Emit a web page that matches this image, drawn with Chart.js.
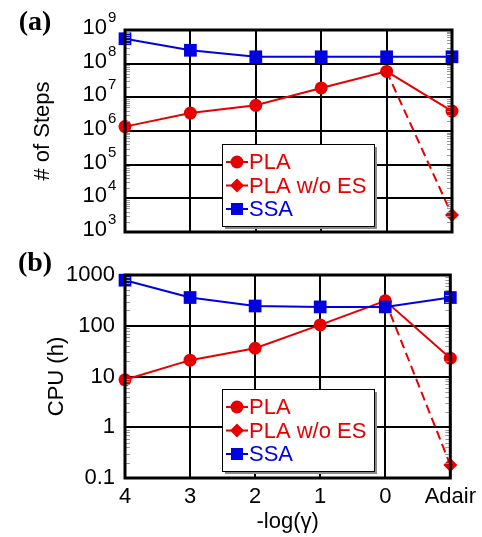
<!DOCTYPE html>
<html>
<head>
<meta charset="utf-8">
<script src="https://cdn.jsdelivr.net/npm/chart.js@4.4.0/dist/chart.umd.min.js"></script>
<style>
  body { margin: 0; background: #fff; }
  #wrap { position: relative; width: 482px; height: 537px; }
  canvas { position: absolute; left: 0; }
  #stepsChart { top: 0; }
  #cpuChart { top: 250px; }
</style>
</head>
<body>
<div id="wrap">
  <canvas id="stepsChart" width="482" height="250"></canvas>
  <canvas id="cpuChart" width="482" height="287"></canvas>
</div>
<script>
const categories = ['4', '3', '2', '1', '0', 'Adair'];

// (a) number of steps
const stepsPLA  = [1.35e6, 3.4e6, 5.8e6, 1.9e7, 5.9e7, 3.9e6];
const stepsNoES = [null, null, null, null, 5.9e7, 3.2e3];
const stepsSSA  = [5.5e8, 2.5e8, 1.6e8, 1.6e8, 1.6e8, 1.6e8];
const stepsTicks = [1e3, 1e4, 1e5, 1e6, 1e7, 1e8, 1e9];

// (b) CPU time in hours
const cpuPLA  = [8.6, 21, 36, 104, 310, 23];
const cpuNoES = [null, null, null, null, 310, 0.18];
const cpuSSA  = [790, 360, 245, 235, 235, 360];
const cpuTicks = [0.1, 1, 10, 100, 1000];

const RED = '#e60000';
const BLUE = '#0000e0';
const FONT = "'Liberation Sans', Arial, sans-serif";

function makeDatasets(pla, noEs, ssa) {
  return [
    {
      label: 'SSA', data: ssa, borderColor: BLUE, backgroundColor: BLUE,
      borderWidth: 2, pointStyle: 'rect', pointRadius: 9, pointBorderWidth: 0,
      order: 0, clip: false
    },
    {
      label: 'PLA', data: pla, borderColor: RED, backgroundColor: RED,
      borderWidth: 2, pointStyle: 'circle', pointRadius: 6.5, pointBorderWidth: 0,
      order: 1, clip: false
    },
    {
      // dashed branch: marker only on the last point
      label: 'PLA w/o ES', data: noEs, borderColor: RED, backgroundColor: RED,
      borderWidth: 2, borderDash: [9, 5], pointStyle: 'rectRot',
      pointRadius: noEs.map((v, i) => i === noEs.length - 1 ? 7 : 0),
      pointBorderWidth: 0, order: 2, clip: false
    }
  ];
}

// frame, minor ticks, legend and text labels
const panelDecor = {
  id: 'panelDecor',
  afterDraw(chart, args, opts) {
    const ctx = chart.ctx;
    const a = chart.chartArea;
    const y = chart.scales.y;
    ctx.save();

    // minor log ticks inside left and right edges
    ctx.strokeStyle = '#999';
    ctx.lineWidth = 1;
    const d0 = Math.round(Math.log10(y.min)), d1 = Math.round(Math.log10(y.max));
    for (let d = d0; d < d1; d++) {
      for (let k = 2; k <= 9; k++) {
        const py = Math.round(y.getPixelForValue(k * Math.pow(10, d))) + 0.5;
        ctx.beginPath();
        ctx.moveTo(a.left + 1, py); ctx.lineTo(a.left + 5, py);
        ctx.moveTo(a.right - 5, py); ctx.lineTo(a.right - 1, py);
        ctx.stroke();
      }
    }

    // box
    ctx.strokeStyle = '#000';
    ctx.lineWidth = 3;
    ctx.strokeRect(a.left, a.top, a.right - a.left, a.bottom - a.top);

    // power-of-ten tick labels
    if (opts.powerLabels) {
      ctx.fillStyle = '#000';
      ctx.textBaseline = 'middle';
      y.ticks.forEach(t => {
        const py = y.getPixelForValue(t.value);
        const exp = Math.round(Math.log10(t.value));
        ctx.font = '22px ' + FONT;
        ctx.textAlign = 'right';
        ctx.fillText('10', a.left - 18, py - 2);
        ctx.font = '15px ' + FONT;
        ctx.textAlign = 'left';
        ctx.fillText(String(exp), a.left - 17, py - 12);
      });
    }

    // legend
    const lx = a.left + 97, ly = a.top + 114, lw = 152, lh = 82;
    ctx.fillStyle = '#8a8a8a';
    ctx.fillRect(lx + 3, ly + 3, lw, lh);
    ctx.fillStyle = '#fff';
    ctx.fillRect(lx, ly, lw, lh);
    ctx.strokeStyle = '#000';
    ctx.lineWidth = 1;
    ctx.strokeRect(lx + 0.5, ly + 0.5, lw, lh);
    const legendOrder = [1, 2, 0];
    legendOrder.forEach((idx, i) => {
      const ds = chart.data.datasets[idx];
      const ry = ly + 18 + i * 23.5;
      ctx.strokeStyle = ds.borderColor;
      ctx.fillStyle = ds.backgroundColor;
      ctx.lineWidth = 2;
      ctx.setLineDash([]);
      ctx.beginPath();
      ctx.moveTo(lx + 4, ry); ctx.lineTo(lx + 26, ry);
      ctx.stroke();
      const r = ds.pointStyle === 'rect' ? 8.5 : (ds.pointStyle === 'rectRot' ? 7 : 6.5);
      Chart.helpers.drawPoint(ctx, { pointStyle: ds.pointStyle, radius: r, rotation: 0, borderWidth: 0 }, lx + 15, ry);
      ctx.fillStyle = ds.borderColor;
      ctx.font = '22px ' + FONT;
      ctx.textAlign = 'left';
      ctx.textBaseline = 'middle';
      ctx.fillText(ds.label, lx + 27, ry + 1);
    });

    // panel letter
    ctx.fillStyle = '#000';
    ctx.font = "bold 28px 'Liberation Serif', 'Times New Roman', serif";
    ctx.textAlign = 'center';
    ctx.textBaseline = 'middle';
    ctx.fillText(opts.panel, 35, opts.panelY);

    // axis titles
    ctx.font = '22px ' + FONT;
    ctx.save();
    ctx.translate(opts.yTitleX, (a.top + a.bottom) / 2);
    ctx.rotate(-Math.PI / 2);
    ctx.fillText(opts.yTitle, 0, 0);
    ctx.restore();
    if (opts.xTitle) {
      ctx.fillText(opts.xTitle, (a.left + a.right) / 2, opts.xTitleY);
    }
    ctx.restore();
  }
};

function makeOptions(cfg) {
  return {
    responsive: false,
    animation: false,
    layout: { padding: { top: cfg.padTop, right: 30, left: 0, bottom: 0 } },
    plugins: {
      legend: { display: false },
      tooltip: { enabled: false },
      panelDecor: cfg.decor
    },
    elements: { line: { tension: 0 } },
    scales: {
      x: {
        type: 'category',
        offset: false,
        grid: { color: '#000', lineWidth: 2, drawTicks: false },
        border: { display: false },
        ticks: {
          display: cfg.showX,
          color: '#000',
          padding: 6,
          maxRotation: 0,
          autoSkip: false,
          font: { family: FONT, size: 22 }
        },
        afterFit: s => { s.height = cfg.xHeight; }
      },
      y: {
        type: 'logarithmic',
        min: cfg.ticks[0],
        max: cfg.ticks[cfg.ticks.length - 1],
        grid: { color: '#000', lineWidth: 2, drawTicks: false },
        border: { display: false },
        afterBuildTicks: s => { s.ticks = cfg.ticks.map(v => ({ value: v })); },
        ticks: {
          display: !cfg.decor.powerLabels,
          color: '#000',
          padding: 10,
          font: { family: FONT, size: 22 },
          callback: v => String(v)
        },
        afterFit: s => { s.width = 125; }
      }
    }
  };
}

new Chart(document.getElementById('stepsChart'), {
  type: 'line',
  data: { labels: categories, datasets: makeDatasets(stepsPLA, stepsNoES, stepsSSA) },
  options: makeOptions({
    padTop: 30, xHeight: 18, showX: false, ticks: stepsTicks,
    decor: { panel: '(a)', panelY: 23, yTitle: '# of Steps', yTitleX: 43, powerLabels: true }
  }),
  plugins: [panelDecor]
});

new Chart(document.getElementById('cpuChart'), {
  type: 'line',
  data: { labels: categories, datasets: makeDatasets(cpuPLA, cpuNoES, cpuSSA) },
  options: makeOptions({
    padTop: 25, xHeight: 59, showX: true, ticks: cpuTicks,
    decor: { panel: '(b)', panelY: 14, yTitle: 'CPU (h)', yTitleX: 57, powerLabels: false,
             xTitle: '-log(\u03b3)', xTitleY: 272 }
  }),
  plugins: [panelDecor]
});
</script>
</body>
</html>
